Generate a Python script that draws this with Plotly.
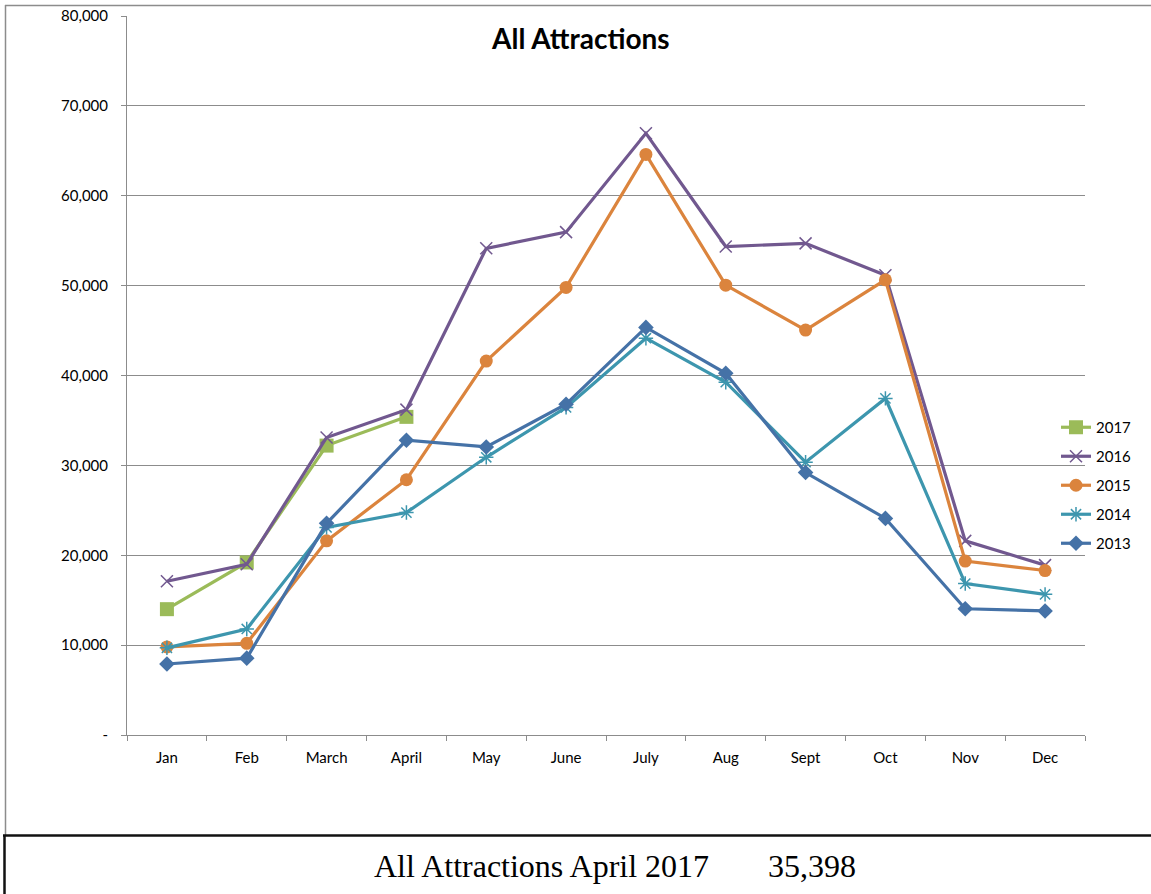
import plotly.graph_objects as go

W, H = 1151, 894

months = ["Jan", "Feb", "March", "April", "May", "June", "July", "Aug", "Sept", "Oct", "Nov", "Dec"]

y2017 = [14000, 19200, 32200, 35398, None, None, None, None, None, None, None, None]
y2016 = [17100, 19000, 33100, 36200, 54150, 55950, 66950, 54350, 54700, 51150, 21600, 18900]
y2015 = [9800, 10200, 21600, 28400, 41600, 49800, 64600, 50050, 45050, 50650, 19350, 18300]
y2014 = [9700, 11800, 23100, 24750, 30900, 36450, 44150, 39250, 30350, 37450, 16850, 15650]
y2013 = [7900, 8550, 23550, 32800, 32050, 36800, 45350, 40250, 29200, 24100, 14050, 13800]

ytickvals = [0, 10000, 20000, 30000, 40000, 50000, 60000, 70000, 80000]
yticktext = ["-", "10,000", "20,000", "30,000", "40,000", "50,000", "60,000", "70,000", "80,000"]

series = [
    ("2017", y2017, "#9BBB59", dict(symbol="square", size=14)),
    ("2016", y2016, "#71588F", dict(symbol="x-thin", size=12, line=dict(width=1.5, color="#71588F"))),
    ("2015", y2015, "#DB843D", dict(symbol="circle", size=13)),
    ("2014", y2014, "#3D96AE", dict(symbol="asterisk", size=12, line=dict(width=1.5, color="#3D96AE"))),
    ("2013", y2013, "#4572A7", dict(symbol="diamond", size=12)),
]

fig = go.Figure()
for name, ys, col, mk in series:
    m = dict(color=col)
    m.update(mk)
    fig.add_trace(go.Scatter(
        x=months, y=ys, name=name, mode="lines+markers",
        line=dict(color=col, width=3.2), marker=m, legendgroup=name,
        connectgaps=False,
    ))

def px(x):
    return x / W

def py(y):
    return (H - y) / H

grid = "#8C8C8C"
font = "Lato, 'Open Sans', sans-serif"
serif = "'Liberation Serif', 'Times New Roman', serif"

fig.update_layout(
    width=W, height=H,
    autosize=False,
    margin=dict(l=0, r=0, t=0, b=0, pad=0, autoexpand=False),
    paper_bgcolor="white", plot_bgcolor="white",
    font=dict(family=font, size=15, color="black"),
    showlegend=True,
    legend=dict(x=px(1056), y=py(411), xanchor="left", yanchor="top",
                font=dict(size=15, family=font), tracegroupgap=6.5,
                bgcolor="rgba(0,0,0,0)", itemwidth=30),
    xaxis=dict(domain=[px(127), px(1085)], type="category", range=[-0.5, 11.5],
               automargin=False,
               showline=True, linecolor=grid, linewidth=1,
               ticks="outside", ticklen=5, tickcolor=grid, tickson="boundaries",
               showgrid=False, tickfont=dict(size=15), ticklabelstandoff=9, fixedrange=True),
    yaxis=dict(domain=[py(735), py(16)], range=[0, 80000],
               automargin=False,
               tickvals=ytickvals, ticktext=yticktext,
               showline=True, linecolor=grid, linewidth=1,
               ticks="outside", ticklen=5, tickcolor=grid,
               showgrid=True, gridcolor=grid, gridwidth=1,
               zeroline=False, tickfont=dict(size=15), ticklabelstandoff=10),
    annotations=[
        dict(text="<b>All Attractions</b>", x=px(580), y=py(38), xref="paper", yref="paper",
             showarrow=False, font=dict(size=28, family=font, color="black"),
             xanchor="center", yanchor="middle"),
        dict(text="All Attractions April 2017", x=px(372), y=py(866), xref="paper", yref="paper",
             showarrow=False, font=dict(size=32, family=serif, color="black"),
             xanchor="left", yanchor="middle"),
        dict(text="35,398", x=px(766), y=py(866), xref="paper", yref="paper",
             showarrow=False, font=dict(size=32, family=serif, color="black"),
             xanchor="left", yanchor="middle"),
    ],
    shapes=[
        dict(type="line", xref="paper", yref="paper", x0=px(5), x1=1, y0=py(5.5), y1=py(5.5),
             line=dict(color="#8C8C8C", width=1.5)),
        dict(type="line", xref="paper", yref="paper", x0=px(5.5), x1=px(5.5), y0=py(5), y1=py(835),
             line=dict(color="#8C8C8C", width=1.5)),
        dict(type="line", xref="paper", yref="paper", x0=px(3), x1=1, y0=py(835.5), y1=py(835.5),
             line=dict(color="#111111", width=2.5)),
        dict(type="line", xref="paper", yref="paper", x0=px(4.5), x1=px(4.5), y0=py(835), y1=0,
             line=dict(color="#111111", width=2.5)),
    ],
)

post = (
    "var de=document.documentElement, b=document.body;"
    "de.style.margin='0';de.style.padding='0';de.style.overflow='hidden';"
    "b.style.margin='0';b.style.padding='0';b.style.overflow='hidden';"
    "var gd=document.getElementById('{plot_id}');"
    "gd.style.position='absolute';gd.style.top='0px';gd.style.left='0px';"
)

fig.write_html("out.html", post_script=post, config={"displayModeBar": False})
